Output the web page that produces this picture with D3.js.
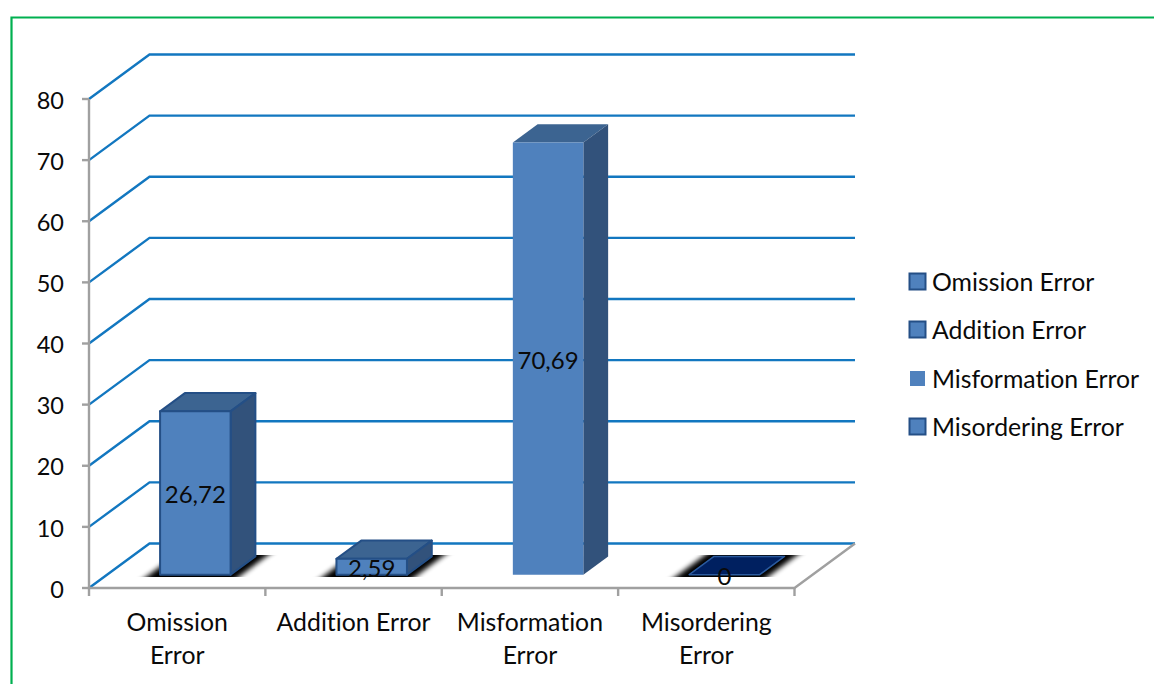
<!DOCTYPE html>
<html>
<head>
<meta charset="utf-8">
<script src="https://cdn.jsdelivr.net/npm/d3@7"></script>
<style>
html,body{margin:0;padding:0;background:#fff}
svg{display:block}
text{font-family:Lato,"Open Sans",sans-serif;fill:#0a0a0a;font-variant-ligatures:none}
</style>
</head>
<body>
<svg id="chart" width="1154" height="684"></svg>
<script>
const categories = ["Omission Error", "Addition Error", "Misformation Error", "Misordering Error"];
const values = [26.72, 2.59, 70.69, 0];
const valueLabels = ["26,72", "2,59", "70,69", "0"];
const yTicks = [0, 10, 20, 30, 40, 50, 60, 70, 80];
const categoryLines = [["Omission", "Error"], ["Addition Error"], ["Misformation", "Error"], ["Misordering", "Error"]];
const legendRows = [28, 76, 125, 173];

const svg = d3.select("#chart");
const defs = svg.append("defs");
defs.append("filter").attr("id", "floorShadow")
  .attr("x", "-30%").attr("width", "160%").attr("y", "-10%").attr("height", "120%")
  .append("feGaussianBlur").attr("stdDeviation", "4.5 0.6");

// Oblique projection: depth 0 is the front edge of the floor, depth 1 the back wall.
const y = d3.scaleLinear().domain([0, 80]).range([588, 99]);
const x = d3.scaleBand().domain(categories).range([89, 794.5]);
const depthX = d3.scaleLinear().domain([0, 1]).range([0, 60.5]);
const depthY = d3.scaleLinear().domain([0, 1]).range([0, -44.5]);
const pt = (px, v, d) => [px + depthX(d), y(v) + depthY(d)];
const pathOf = pts => "M" + pts.map(p => p.join(",")).join("L") + "Z";

// Green frame, open towards the right and the bottom of the page
svg.append("path")
  .attr("d", "M11.5,684V17.5H1154")
  .attr("fill", "none").attr("stroke", "#00b050").attr("stroke-width", 2.2);

// Wall gridlines
const gridColor = "#1277c0";
svg.append("g").selectAll("path").data(yTicks).join("path")
  .attr("d", v => {
    const a = pt(89, v, 0), b = pt(89, v, 1), c = pt(794.5, v, 1);
    return `M${a}L${b}L${c}`;
  })
  .attr("fill", "none").attr("stroke", gridColor).attr("stroke-width", 2.4);

// Floor edges, vertical axis and tick marks
const axisColor = "#a0a0a0";
const axes = svg.append("g").attr("fill", "none").attr("stroke", axisColor).attr("stroke-width", 2.4);
axes.append("path").attr("d", `M${pt(89, 0, 0)}L${pt(794.5, 0, 0)}L${pt(794.5, 0, 1)}`);
axes.append("path").attr("d", `M${pt(89, 80, 0)}L${pt(89, 0, 0)}`);
axes.selectAll(".ytick").data(yTicks).join("path").attr("class", "ytick")
  .attr("d", v => `M82,${y(v)}H89`);
const xEdges = categories.map(c => x(c)).concat([x.range()[1]]);
axes.selectAll(".xtick").data(xEdges).join("path").attr("class", "xtick")
  .attr("d", e => `M${e},588V596`);

// Value axis labels
svg.append("g").selectAll("text").data(yTicks).join("text")
  .attr("x", 64).attr("y", v => y(v) + 1.5).attr("dy", "0.35em")
  .attr("text-anchor", "end").attr("font-size", 23.5).text(d => d);

// Category labels
const catLabels = svg.append("g").selectAll("text").data(categories).join("text")
  .attr("text-anchor", "middle").attr("font-size", 24.8);
catLabels.each(function (c, i) {
  d3.select(this).selectAll("tspan").data(categoryLines[i]).join("tspan")
    .attr("x", x(c) + x.bandwidth() / 2)
    .attr("y", (l, k) => 631 + k * 33)
    .text(l => l);
});

// 3D bars
const barWidth = 70.5, frontDepth = 0.3, backDepth = 0.71;
const bars = categories.map((c, i) => ({
  c, i, v: values[i], label: valueLabels[i],
  left: x(c) + x.bandwidth() / 2 - barWidth / 2
}));
const plain = { front: "#4f81bd", top: "#3c6491", side: "#32527b", stroke: "#244f86", width: 2 };
const styleOf = d => d.v === 0
  ? { front: "#002060", top: "#002060", side: "#002060", stroke: "#2a5a9e", width: 1.5 }
  : d.i === 2 ? { ...plain, stroke: "none", width: 0 } : plain;

const barG = svg.append("g").selectAll("g").data(bars).join("g");

// Soft floor shadow, skipped under the tall middle column
barG.filter(d => d.i !== 2).append("path")
  .attr("d", d => pathOf([
    pt(d.left - 11, 0, 0.25), pt(d.left + barWidth + 11, 0, 0.25),
    pt(d.left + barWidth + 11, 0, 0.74), pt(d.left - 11, 0, 0.74)
  ]))
  .attr("fill", "#000").attr("filter", "url(#floorShadow)");

const face = (sel, fn, key) => sel.append("path")
  .attr("d", fn)
  .attr("fill", d => styleOf(d)[key])
  .attr("stroke", d => styleOf(d).stroke)
  .attr("stroke-width", d => styleOf(d).width)
  .attr("stroke-linejoin", "round");

face(barG, d => pathOf([
  pt(d.left, d.v, frontDepth), pt(d.left + barWidth, d.v, frontDepth),
  pt(d.left + barWidth, d.v, backDepth), pt(d.left, d.v, backDepth)
]), "top");
barG.filter(d => d.v > 0).call(face, d => pathOf([
  pt(d.left + barWidth, d.v, frontDepth), pt(d.left + barWidth, d.v, backDepth),
  pt(d.left + barWidth, 0, backDepth), pt(d.left + barWidth, 0, frontDepth)
]), "side");
barG.filter(d => d.v > 0).call(face, d => pathOf([
  pt(d.left, d.v, frontDepth), pt(d.left + barWidth, d.v, frontDepth),
  pt(d.left + barWidth, 0, frontDepth), pt(d.left, 0, frontDepth)
]), "front");

barG.append("text")
  .attr("x", d => pt(d.left + barWidth / 2, 0, frontDepth)[0])
  .attr("y", d => (pt(0, 0, frontDepth)[1] + pt(0, d.v, frontDepth)[1]) / 2 + 2)
  .attr("dy", "0.35em").attr("text-anchor", "middle").attr("font-size", 24)
  .text(d => d.label);

// Legend
const legendY = d3.scaleOrdinal().domain(categories).range(legendRows);
const legend = svg.append("g").attr("transform", "translate(0,254)")
  .selectAll("g").data(bars).join("g")
  .attr("transform", d => `translate(0,${legendY(d.c)})`);
legend.append("rect")
  .attr("x", d => d.i === 2 ? 910 : 909.5).attr("y", d => d.i === 2 ? -8 : -8.5)
  .attr("width", d => d.i === 2 ? 15 : 16).attr("height", d => d.i === 2 ? 15 : 16)
  .attr("fill", "#4f81bd")
  .attr("stroke", d => d.i === 2 ? "none" : "#244f86").attr("stroke-width", 2);
legend.append("text")
  .attr("x", 932).attr("dy", "0.35em").attr("font-size", 24.8)
  .text(d => d.c);
</script>
</body>
</html>
